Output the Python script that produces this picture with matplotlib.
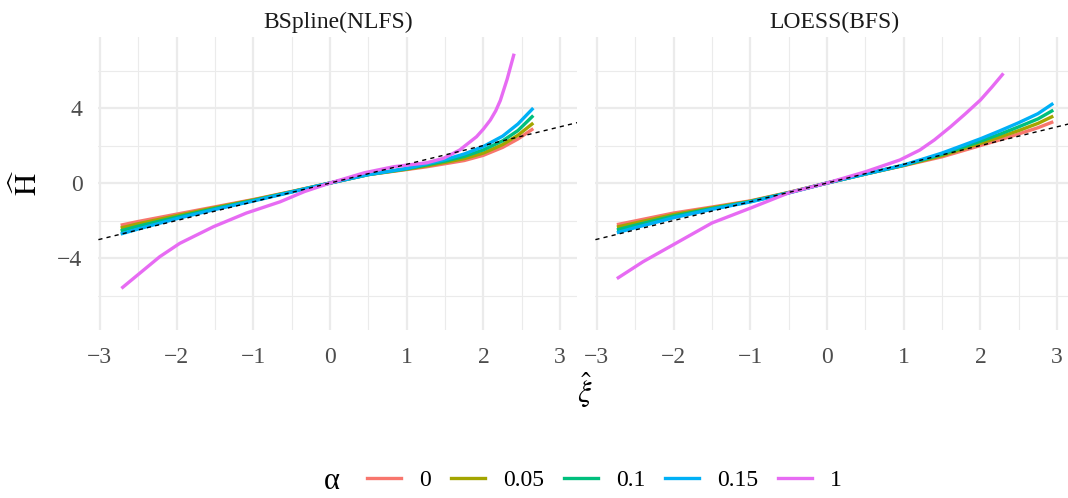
import matplotlib
matplotlib.use("Agg")
import matplotlib.pyplot as plt
from matplotlib.lines import Line2D

plt.rcParams['font.family'] = ['Liberation Serif', 'DejaVu Serif']
plt.rcParams['mathtext.fontset'] = 'stix'

# alpha levels and ggplot hue colours
alphas = ['0', '0.05', '0.1', '0.15', '1']
colors = ['#F8766D', '#A3A500', '#00BF7D', '#00B0F6', '#E76BF3']
panels = ['BSpline(NLFS)', 'LOESS(BFS)']

# BSpline(NLFS) panel, values
bs_x = [-2.73, -2.5, -2.0, -1.5, -1.0, -0.5, 0.0, 0.5, 1.0, 1.25, 1.5, 1.75, 2.0, 2.25, 2.45, 2.65]
bs_y = {
    '0':    [-2.25, -2.05, -1.66, -1.27, -0.88, -0.45, 0, 0.45, 0.72, 0.86, 1.03, 1.20, 1.48, 1.90, 2.35, 2.90],
    '0.05': [-2.40, -2.17, -1.74, -1.31, -0.90, -0.46, 0, 0.45, 0.74, 0.91, 1.10, 1.30, 1.60, 2.05, 2.55, 3.20],
    '0.1':  [-2.55, -2.30, -1.82, -1.36, -0.93, -0.47, 0, 0.45, 0.76, 0.96, 1.17, 1.42, 1.77, 2.25, 2.80, 3.60],
    '0.15': [-2.72, -2.45, -1.90, -1.41, -0.96, -0.48, 0, 0.45, 0.78, 1.02, 1.25, 1.55, 1.95, 2.50, 3.15, 4.00],
}
bs_x1 = [-2.72, -2.22, -1.96, -1.52, -1.09, -0.65, -0.33, 0.0, 0.45, 0.83, 1.26, 1.48, 1.69,
         1.91, 2.0, 2.09, 2.16, 2.22, 2.31, 2.40]
bs_y1 = [-5.62, -3.93, -3.22, -2.33, -1.60, -1.00, -0.45, 0, 0.55, 0.87, 1.08, 1.32, 1.76,
         2.47, 2.88, 3.36, 3.85, 4.40, 5.55, 6.90]

# LOESS(BFS) panel
lo_x = [-2.74, -2.5, -2.0, -1.5, -1.0, -0.5, 0.0, 0.5, 1.0, 1.5, 2.0, 2.25, 2.5, 2.75, 2.95]
lo_y = {
    '0':    [-2.22, -2.02, -1.60, -1.28, -0.95, -0.50, 0, 0.48, 0.93, 1.40, 2.00, 2.30, 2.62, 2.95, 3.27],
    '0.05': [-2.35, -2.13, -1.68, -1.32, -0.97, -0.51, 0, 0.48, 0.94, 1.46, 2.12, 2.45, 2.80, 3.18, 3.57],
    '0.1':  [-2.50, -2.25, -1.76, -1.36, -0.99, -0.52, 0, 0.48, 0.95, 1.53, 2.23, 2.60, 3.00, 3.42, 3.89],
    '0.15': [-2.65, -2.38, -1.85, -1.40, -1.01, -0.53, 0, 0.48, 0.96, 1.60, 2.36, 2.78, 3.22, 3.70, 4.25],
}
lo_x1 = [-2.74, -2.4, -2.0, -1.5, -1.0, -0.49, 0.0, 0.5, 0.95, 1.21, 1.4, 1.61, 1.8, 2.0, 2.15, 2.30]
lo_y1 = [-5.1, -4.2, -3.28, -2.13, -1.34, -0.51, 0, 0.6, 1.23, 1.76, 2.3, 3.0, 3.68, 4.43, 5.12, 5.85]

xticks = [-3, -2, -1, 0, 1, 2, 3]
yticks = [-4, 0, 4]

W, H = 1068, 498
fig = plt.figure(figsize=(W / 100, H / 100), dpi=100)
ax1 = fig.add_axes([98.4 / W, 1 - 330 / H, 478.6 / W, 293 / H])
ax2 = fig.add_axes([595.4 / W, 1 - 330 / H, 478.6 / W, 293 / H])

data = [(bs_x, bs_y, bs_x1, bs_y1), (lo_x, lo_y, lo_x1, lo_y1)]
for ax, title, (x, ys, x1, y1) in zip([ax1, ax2], panels, data):
    for a, c in zip(alphas[:4], colors[:4]):
        ax.plot(x, ys[a], color=c, lw=2.4, solid_capstyle='butt', zorder=3)
    ax.plot(x1, y1, color=colors[4], lw=2.4, solid_capstyle='butt', zorder=3)
    ax.axline((0, 0), slope=1, color='black', ls='--', lw=1.0, dashes=(3, 3), zorder=4)
    ax.set_xlim(-3.02, 3.22)
    ax.set_ylim(-7.84, 7.79)
    ax.set_xticks(xticks)
    ax.set_xticklabels(['\u2212%d' % -t if t < 0 else str(t) for t in xticks])
    ax.set_yticks(yticks)
    ax.set_yticks([-6, -2, 2, 6], minor=True)
    ax.set_xticks([-2.5, -1.5, -0.5, 0.5, 1.5, 2.5], minor=True)
    ax.grid(True, which='major', color='#EBEBEB', lw=1.6)
    ax.grid(True, which='minor', color='#EBEBEB', lw=0.8)
    ax.set_axisbelow(True)
    for s in ax.spines.values():
        s.set_visible(False)
    ax.tick_params(which='both', length=0, labelsize=17, labelcolor='#4D4D4D')
    ax.tick_params(axis='x', pad=12)
    ax.tick_params(axis='y', pad=11.5)
    ax.set_title(title, fontsize=17, color='#1A1A1A', pad=6.5)

ax1.set_yticklabels(['\u22124', '0', '4'])
ax2.set_yticklabels([])

fig.text(28 / W, 1 - 183 / H, r'$\widehat{\mathrm{H}}$', rotation=90, fontsize=22,
         ha='center', va='center')
fig.text(585 / W, 1 - 390 / H, r'$\hat{\xi}$', fontsize=22, ha='center', va='center')

handles = [Line2D([], [], color=c, lw=2.4) for c in colors]
fig.text(332 / W, 1 - 481 / H, '\u03b1', fontsize=22, ha='center', va='center')
fig.legend(handles, alphas, ncol=5, loc='center', bbox_to_anchor=(604.5 / W, 1 - 480 / H),
           frameon=False, fontsize=17, handlelength=1.44, handletextpad=0.76,
           columnspacing=0.85, borderaxespad=0)

fig.savefig('out.png', dpi=100)
